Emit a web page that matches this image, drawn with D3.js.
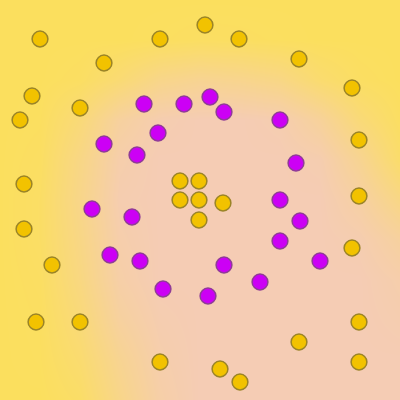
<!DOCTYPE html>
<html>
<head>
<meta charset="utf-8">
<script src="https://cdn.jsdelivr.net/npm/d3@7"></script>
<style>
html,body{margin:0;padding:0;background:#fbdf5e;}
#wrap{position:relative;width:400px;height:400px;overflow:hidden;}
#wrap canvas,#wrap svg{position:absolute;left:0;top:0;}
</style>
</head>
<body>
<div id="wrap"></div>
<script>
// Class A (gold) points, data coords
const goldX = [-8.0,-2.0,0.25,1.95,-4.8,4.95,7.6,-8.4,-6.0,-9.0,7.95,-8.8,-1.0,-0.05,-1.0,-0.05,1.15,-0.05,7.95,-8.8,7.6,-7.4,-8.2,-6.0,7.95,4.95,-2.0,7.95,1.0,2.0];
const goldY = [8.05,8.05,8.75,8.05,6.85,7.05,5.6,5.2,4.6,4.0,3.0,0.8,0.95,0.95,0.0,0.0,-0.15,-1.0,0.2,-1.45,-2.4,-3.25,-6.1,-6.1,-6.1,-7.1,-8.1,-8.1,-8.45,-9.1];
// Class B (purple) points
const purpleX = [-2.8,-0.8,0.5,1.2,4.0,-2.1,-4.8,-3.15,4.8,4.0,-5.4,-3.4,5.0,4.0,-4.5,-3.0,1.2,6.0,3.0,-1.85,0.4];
const purpleY = [4.8,4.8,5.15,4.4,4.0,3.35,2.8,2.25,1.85,0.0,-0.45,-0.85,-1.05,-2.05,-2.75,-3.05,-3.25,-3.05,-4.1,-4.45,-4.8];
// Background: estimated share of class B output on an 11x11 grid (rows top→bottom)
const bgGrid = [
 [0,0,0,0,0,0,0,0,0,0,0],
 [0,0,0,0,0.02,0.05,0.04,0.02,0,0,0],
 [0,0,0.05,0.25,0.5,0.6,0.55,0.45,0.2,0.05,0],
 [0,0.02,0.3,0.75,0.95,1,1,0.95,0.7,0.3,0.05],
 [0,0.05,0.45,0.9,1,1,1,1,0.95,0.6,0.15],
 [0,0.08,0.5,0.95,1,1,1,1,1,0.8,0.45],
 [0,0.08,0.45,0.9,1,1,1,1,1,0.95,0.75],
 [0,0.05,0.4,0.85,1,1,1,1,1,1,0.9],
 [0,0.03,0.3,0.75,0.95,1,1,1,1,1,0.95],
 [0,0.02,0.2,0.6,0.9,1,1,1,1,1,1],
 [0,0,0.1,0.5,0.85,1,1,1,1,1,1]
];

const W = 400, H = 400;
const x = d3.scaleLinear().domain([-10,10]).range([0,W]);
const y = d3.scaleLinear().domain([10,-10]).range([0,H]);
const bgColor = d3.interpolateRgb("#fbdf5e", "#f5ccb4");

const wrap = d3.select("#wrap");
const canvas = wrap.append("canvas").attr("width", W).attr("height", H).node();
const ctx = canvas.getContext("2d");
const img = ctx.createImageData(W, H);
const n = bgGrid.length - 1;
const gx = d3.scaleLinear().domain([0, W]).range([0, n]);
const gy = d3.scaleLinear().domain([0, H]).range([0, n]);
for (let py = 0; py < H; py++) {
  const fy = gy(py + 0.5), iy = Math.min(n - 1, Math.floor(fy)), ty = fy - iy;
  for (let px = 0; px < W; px++) {
    const fx = gx(px + 0.5), ix = Math.min(n - 1, Math.floor(fx)), tx = fx - ix;
    const a = bgGrid[iy][ix], b = bgGrid[iy][ix+1], c = bgGrid[iy+1][ix], d = bgGrid[iy+1][ix+1];
    const v = (a*(1-tx) + b*tx)*(1-ty) + (c*(1-tx) + d*tx)*ty;
    const col = d3.rgb(bgColor(v));
    const k = (py*W + px)*4;
    img.data[k] = col.r; img.data[k+1] = col.g; img.data[k+2] = col.b; img.data[k+3] = 255;
  }
}
ctx.putImageData(img, 0, 0);

const svg = wrap.append("svg").attr("width", W).attr("height", H);
const gold = goldX.map((v,i) => ({x: v, y: goldY[i]}));
const purple = purpleX.map((v,i) => ({x: v, y: purpleY[i]}));

svg.append("g").selectAll("circle").data(gold).join("circle")
  .attr("cx", d => x(d.x)).attr("cy", d => y(d.y)).attr("r", 7.9)
  .attr("fill", "#f2c200").attr("stroke", "#9a8428").attr("stroke-width", 1.5);
svg.append("g").selectAll("circle").data(purple).join("circle")
  .attr("cx", d => x(d.x)).attr("cy", d => y(d.y)).attr("r", 7.9)
  .attr("fill", "#cc00f5").attr("stroke", "#8f3c97").attr("stroke-width", 1.5);
</script>
</body>
</html>
